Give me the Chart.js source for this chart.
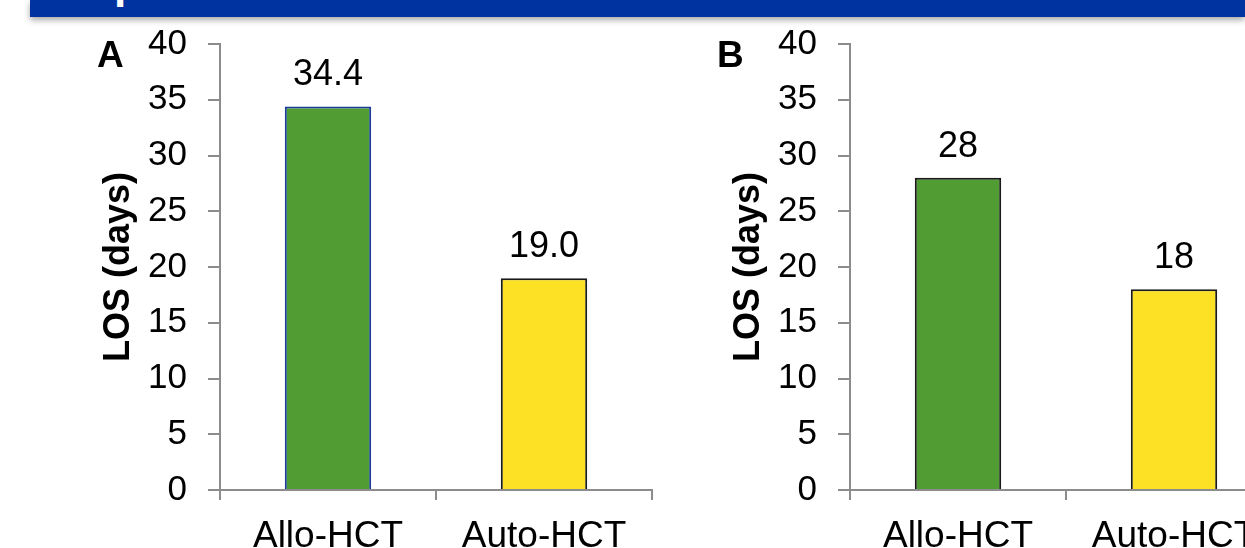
<!DOCTYPE html>
<html>
<head>
<meta charset="utf-8">
<script src="https://cdn.jsdelivr.net/npm/chart.js@4.4.1/dist/chart.umd.min.js"></script>
<style>
    html, body { margin: 0; padding: 0; background: #fff; overflow: hidden; }
    body { width: 1245px; height: 548px; position: relative; font-family: "Liberation Sans", Arial, sans-serif; }
    .banner {
        position: absolute; left: 30px; top: 0; width: 1215px; height: 17px;
        background: #0033a0; box-shadow: 0 3px 6px rgba(0, 0, 0, 0.35); overflow: hidden;
    }
    .banner span {
        position: absolute; left: 84px; top: -39px; color: #fff;
        font: bold 44px/1 "Liberation Sans", Arial, sans-serif;
    }
    .panel-tag { position: absolute; top: 36px; font: bold 37px/1 "Liberation Sans", Arial, sans-serif; color: #000; }
    canvas { position: absolute; top: 0; }
</style>
</head>
<body>
<div class="banner"><span>p</span></div>
<canvas id="chartA" width="660" height="548" style="left:0px"></canvas>
<canvas id="chartB" width="660" height="548" style="left:630px"></canvas>
<div class="panel-tag" style="left:97px">A</div>
<div class="panel-tag" style="left:717px">B</div>

<script>
// chart data
const categories = ['Allo-HCT', 'Auto-HCT'];
const losA = [34.4, 19.0];
const losB = [28, 18];
const yMin = 0;
const yMax = 40;
const yStep = 5;

const GREEN = 'rgb(82,157,51)';
const YELLOW = 'rgb(252,225,36)';
const AXIS = '#8c8c8c';
const FONT = '"Liberation Sans", Arial, sans-serif';

// draws the value above each bar
const valueLabels = {
    id: 'valueLabels',
    afterDatasetsDraw(chart, args, opts) {
        const ctx = chart.ctx;
        const ds = chart.data.datasets[0];
        const meta = chart.getDatasetMeta(0);
        ctx.save();
        ctx.font = '36px ' + FONT;
        ctx.fillStyle = '#000';
        ctx.textAlign = 'center';
        ctx.textBaseline = 'alphabetic';
        meta.data.forEach((bar, i) => {
            ctx.fillText(ds.data[i].toFixed(opts.decimals), bar.x, bar.y - 21);
        });
        ctx.restore();
    }
};

function makeChart(id, values, borders, decimals) {
    const ctx = document.getElementById(id).getContext('2d');
    return new Chart(ctx, {
        type: 'bar',
        data: {
            labels: categories,
            datasets: [{
                data: values,
                backgroundColor: [GREEN, YELLOW],
                borderColor: borders,
                borderWidth: 2,
                categoryPercentage: 1,
                barPercentage: 0.4
            }]
        },
        options: {
            responsive: false,
            animation: false,
            layout: { padding: { top: 44, right: 8, bottom: 0, left: 0 } },
            plugins: {
                legend: { display: false },
                tooltip: { enabled: false },
                valueLabels: { decimals: decimals }
            },
            scales: {
                x: {
                    afterFit(scale) { scale.height = 58; },
                    grid: { drawOnChartArea: false, drawTicks: true, tickLength: 10, color: AXIS, lineWidth: 2 },
                    border: { display: true, color: AXIS, width: 2 },
                    ticks: { color: '#000', padding: 15, maxRotation: 0, autoSkip: false, font: { family: FONT, size: 37 } }
                },
                y: {
                    min: yMin,
                    max: yMax,
                    afterFit(scale) { scale.width = 220; },
                    grid: { drawOnChartArea: false, drawTicks: true, tickLength: 12, color: AXIS, lineWidth: 2 },
                    border: { display: true, color: AXIS, width: 2 },
                    ticks: { stepSize: yStep, color: '#000', padding: 21, font: { family: FONT, size: 35 } },
                    title: {
                        display: true,
                        text: 'LOS (days)',
                        color: '#000',
                        padding: { top: 97, bottom: 0 },
                        font: { family: FONT, size: 36, weight: 'bold' }
                    }
                }
            }
        },
        plugins: [valueLabels]
    });
}

makeChart('chartA', losA, ['#1a3d9c', '#1a1a1a'], 1);
makeChart('chartB', losB, ['#1a1a1a', '#1a1a1a'], 0);
</script>
</body>
</html>
